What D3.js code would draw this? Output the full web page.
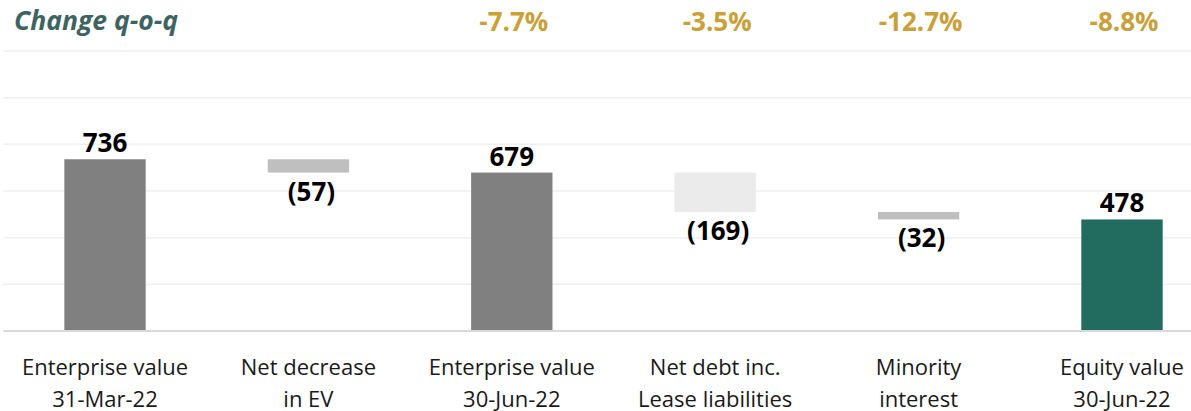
<!DOCTYPE html>
<html>
<head>
<meta charset="utf-8">
<script src="https://cdn.jsdelivr.net/npm/d3@7/dist/d3.min.js"></script>
<style>
  html, body { margin: 0; padding: 0; background: #ffffff; }
  svg { display: block; font-family: "Open Sans", "Noto Sans", sans-serif; }
</style>
</head>
<body>
<svg id="chart" width="1191" height="411"></svg>
<script>
// Bridge from enterprise value to equity value (figures in millions)
const categories = [
  ["Enterprise value", "31-Mar-22"],
  ["Net decrease", "in EV"],
  ["Enterprise value", "30-Jun-22"],
  ["Net debt inc.", "Lease liabilities"],
  ["Minority", "interest"],
  ["Equity value", "30-Jun-22"]
];
const values = [736, -57, 679, -169, -32, 478];
const isTotal = [true, false, true, false, false, true];
const changeLabels = ["", "", "-7.7%", "-3.5%", "-12.7%", "-8.8%"];
const barColors = ["#808080", "#bfbfbf", "#808080", "#ebebeb", "#bfbfbf", "#226b5f"];
const yTicks = [0, 200, 400, 600, 800, 1000, 1200];

const svg = d3.select("#chart");
const keys = categories.map(c => c.join(" "));

const x = d3.scaleBand()
  .domain(keys)
  .range([3.3, 1223.7])
  .paddingInner(0.6)
  .paddingOuter(0.3);

const y = d3.scaleLinear().domain([0, 1200]).range([331, 51]);

// Running level of the waterfall: totals reset it, changes step from it
let level = 0;
const bars = values.map((v, i) => {
  let lo, hi;
  if (isTotal[i]) { lo = 0; hi = v; level = v; }
  else { hi = level; lo = level + v; level = lo; }
  return { key: keys[i], lines: categories[i], value: v, lo, hi, total: isTotal[i], color: barColors[i], change: changeLabels[i] };
});

// Horizontal gridlines
svg.append("g")
  .selectAll("line")
  .data(yTicks.filter(t => t > 0))
  .join("line")
  .attr("x1", 3.3).attr("x2", 1223.7)
  .attr("y1", d => y(d)).attr("y2", d => y(d))
  .attr("stroke", "#efefef")
  .attr("stroke-width", 1.5);

// Bars
svg.append("g")
  .selectAll("rect")
  .data(bars)
  .join("rect")
  .attr("x", d => x(d.key))
  .attr("width", x.bandwidth())
  .attr("y", d => y(d.hi))
  .attr("height", d => y(d.lo) - y(d.hi))
  .attr("fill", d => d.color);

// Zero line
svg.append("line")
  .attr("x1", 3.3).attr("x2", 1223.7)
  .attr("y1", y(0)).attr("y2", y(0))
  .attr("stroke", "#d9d9d9")
  .attr("stroke-width", 2);

// Value labels: totals above the bar, changes below it in brackets
svg.append("g")
  .selectAll("text")
  .data(bars)
  .join("text")
  .attr("x", d => x(d.key) + x.bandwidth() / 2 + (d.total ? 0 : 3))
  .attr("y", d => d.total ? y(d.hi) - 7 : y(d.lo) + 28)
  .attr("text-anchor", "middle")
  .attr("font-size", 26)
  .attr("font-weight", 700)
  .attr("fill", "#000000")
  .text(d => d.value < 0 ? "(" + Math.abs(d.value) + ")" : d.value);

// Category axis labels
const axisG = svg.append("g")
  .selectAll("text")
  .data(bars)
  .join("text")
  .attr("x", d => x(d.key) + x.bandwidth() / 2)
  .attr("y", 375)
  .attr("text-anchor", "middle")
  .attr("font-size", 22)
  .attr("fill", "#1a1a1a");
axisG.selectAll("tspan")
  .data(d => d.lines.map(l => ({ l, cx: x(d.key) + x.bandwidth() / 2 })))
  .join("tspan")
  .attr("x", d => d.cx)
  .attr("dy", (d, i) => i === 0 ? 0 : 31.5)
  .text(d => d.l);

// Quarter-on-quarter change row
svg.append("text")
  .attr("x", 14)
  .attr("y", 30)
  .attr("font-size", 26.5)
  .attr("font-weight", 700)
  .attr("font-style", "italic")
  .attr("fill", "#3e6363")
  .text("Change q-o-q");

svg.append("g")
  .selectAll("text")
  .data(bars.filter(d => d.change))
  .join("text")
  .attr("x", d => x(d.key) + x.bandwidth() / 2 + 2)
  .attr("y", 31)
  .attr("text-anchor", "middle")
  .attr("font-size", 26)
  .attr("font-weight", 700)
  .attr("fill", "#c9a03a")
  .text(d => d.change);
</script>
</body>
</html>
